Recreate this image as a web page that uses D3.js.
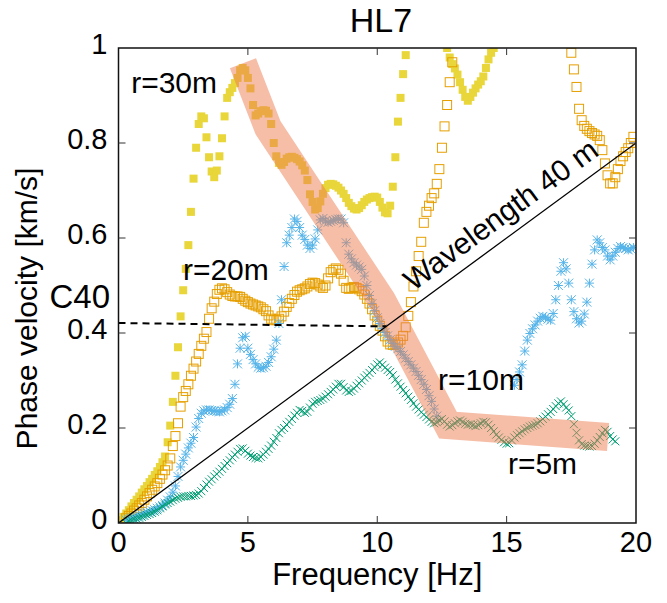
<!DOCTYPE html>
<html><head><meta charset="utf-8">
<script src="https://cdn.jsdelivr.net/npm/d3@7/dist/d3.min.js"></script>
<style>body{margin:0;background:#fff}text{font-family:"Liberation Sans",Arial,Helvetica,sans-serif;fill:#000}</style>
</head><body>
<svg id="chart" width="667" height="603"></svg>
<script>
// ---------- data ----------
const chartTitle = "HL7";
const xLabel = "Frequency [Hz]";
const yLabel = "Phase velocity [km/s]";
const xTicks = [0, 5, 10, 15, 20];
const xTickLabels = ["0", "5", "10", "15", "20"];
const yTicks = [0, 0.2, 0.4, 0.6, 0.8, 1];
const yTickLabels = ["0", "0.2", "0.4", "0.6", "0.8", "1"];
const freqStep = 0.1; // sampling step of the dispersion curves [Hz]

// r = 5 m (green x)
const r5Start = 0.3;
const r5Vel = [0.0,0.004,0.006,0.008,0.009,0.011,0.013,0.015,0.017,0.019,
0.021,0.024,0.027,0.031,0.035,0.039,0.042,0.045,0.048,0.051,
0.053,0.055,0.056,0.056,0.057,0.057,0.058,0.059,0.062,0.067,
0.074,0.081,0.087,0.092,0.098,0.103,0.108,0.114,0.12,0.126,
0.132,0.138,0.144,0.15,0.156,0.157,0.152,0.146,0.142,0.139,
0.137,0.136,0.139,0.144,0.15,0.156,0.163,0.171,0.179,0.189,
0.196,0.2,0.207,0.213,0.219,0.226,0.232,0.238,0.236,0.232,
0.234,0.243,0.251,0.255,0.257,0.259,0.262,0.266,0.271,0.276,
0.281,0.287,0.293,0.293,0.286,0.279,0.276,0.278,0.283,0.289,
0.294,0.3,0.306,0.311,0.316,0.322,0.328,0.334,0.338,0.333,
0.327,0.322,0.318,0.311,0.302,0.294,0.287,0.28,0.273,0.266,
0.259,0.252,0.245,0.239,0.233,0.228,0.223,0.218,0.213,0.21,
0.212,0.216,0.219,0.214,0.207,0.203,0.206,0.21,0.214,0.216,
0.213,0.209,0.207,0.208,0.206,0.204,0.206,0.21,0.213,0.212,
0.207,0.2,0.193,0.186,0.18,0.175,0.17,0.167,0.168,0.174,
0.18,0.185,0.189,0.193,0.197,0.2,0.203,0.205,0.207,0.21,
0.214,0.219,0.224,0.229,0.234,0.24,0.246,0.252,0.256,0.25,
0.243,0.237,0.225,0.208,0.19,0.174,0.166,0.163,0.162,0.161,
0.162,0.167,0.174,0.181,0.189,0.196,0.192,0.183,0.176,0.172];

// r = 10 m (blue asterisks), two branches
const r10aStart = 0.3;
const r10aVel = [0.006,0.008,0.01,0.012,0.013,0.015,0.017,0.02,0.022,0.024,
0.026,0.028,0.031,0.034,0.037,0.042,0.048,0.055,0.065,0.078,
0.098,0.118,0.132,0.145,0.158,0.168,0.18,0.202,0.22,0.231,
0.236,0.238,0.238,0.237,0.236,0.235,0.234,0.236,0.238,0.243,
0.25,0.262,0.292,0.335,0.368,0.39,0.393,0.368,0.355,0.344,
0.335,0.328,0.326,0.327,0.33,0.338,0.35,0.366,0.385,0.42,
0.47,0.54,0.59,0.606,0.622,0.64,0.635,0.622,0.606,0.597,
0.585,0.578,0.585,0.598,0.617,0.638,0.641,0.636,0.633,0.635,
0.637,0.639,0.64,0.64,0.632,0.59,0.566,0.556,0.548,0.543,
0.539,0.534,0.52,0.5,0.479,0.462,0.447,0.432,0.42,0.409,
0.401,0.394,0.386,0.378,0.372,0.367,0.361,0.354,0.347,0.34,
0.333,0.326,0.319,0.311,0.302,0.292,0.281,0.268,0.256,0.24,
0.225];
const r10bStart = 15.3;
const r10bVel = [0.29,0.302,0.318,0.333,0.362,0.385,0.399,0.409,0.417,0.425,
0.431,0.435,0.433,0.429,0.427,0.441,0.47,0.5,0.53,0.548,
0.535,0.505,0.47,0.445,0.43,0.421,0.425,0.44,0.465,0.505,
0.545,0.575,0.596,0.59,0.58,0.575,0.562,0.554,0.562,0.57,
0.578,0.582,0.58,0.578,0.575,0.577,0.58];

// r = 20 m (orange open squares), two branches
const r20aStart = 0.3;
const r20aVel = [0.01,0.015,0.02,0.026,0.031,0.037,0.042,0.049,0.056,0.063,
0.07,0.077,0.084,0.093,0.102,0.111,0.121,0.136,0.162,0.183,
0.21,0.245,0.265,0.278,0.292,0.31,0.325,0.34,0.356,0.373,
0.388,0.402,0.43,0.452,0.466,0.482,0.491,0.494,0.492,0.486,
0.481,0.478,0.477,0.477,0.476,0.472,0.468,0.465,0.462,0.46,
0.458,0.456,0.454,0.45,0.446,0.437,0.43,0.427,0.427,0.43,
0.435,0.445,0.455,0.463,0.472,0.48,0.487,0.49,0.492,0.494,
0.498,0.503,0.506,0.505,0.502,0.498,0.495,0.5,0.515,0.528,
0.533,0.536,0.533,0.525,0.51,0.495,0.493,0.495,0.497,0.495,
0.492,0.488,0.481,0.472,0.462,0.45,0.437,0.426,0.415,0.405,
0.393,0.382,0.376,0.375,0.376,0.38,0.386,0.394,0.412,0.436,
0.465,0.498,0.53,0.562,0.592,0.632,0.655,0.668,0.684,0.694,
0.714,0.745,0.79,0.835,0.88,0.928,0.97];
const r20bStart = 17.5;
const r20bVel = [0.99,0.955,0.918,0.872,0.848,0.836,0.83,0.825,0.821,0.818,
0.815,0.806,0.785,0.757,0.732,0.715,0.715,0.728,0.745,0.762,
0.772,0.781,0.789,0.8,0.813];

// r = 30 m (yellow filled squares), two branches
const r30aStart = 0.1;
const r30aVel = [0.006,0.013,0.02,0.027,0.035,0.042,0.049,0.056,0.064,0.071,
0.078,0.086,0.093,0.101,0.109,0.118,0.128,0.14,0.17,0.205,
0.255,0.31,0.37,0.435,0.49,0.535,0.585,0.655,0.725,0.79,
0.84,0.856,0.852,0.812,0.77,0.74,0.728,0.742,0.772,0.81,
0.856,0.895,0.907,0.916,0.926,0.937,0.953,0.958,0.953,0.937,
0.915,0.88,0.858,0.862,0.867,0.869,0.868,0.862,0.84,0.8,
0.772,0.758,0.754,0.76,0.767,0.77,0.771,0.769,0.766,0.761,
0.753,0.742,0.722,0.692,0.676,0.66,0.663,0.677,0.693,0.705,
0.712,0.714,0.713,0.71,0.706,0.7,0.693,0.684,0.674,0.667,
0.662,0.66,0.663,0.669,0.676,0.681,0.684,0.686,0.687,0.685,
0.676,0.664,0.654,0.652,0.668,0.708,0.77,0.845,0.895,0.945,0.985];
const r30bStart = 12.7;
const r30bVel = [1.0,0.98,0.966,0.957,0.944,0.928,0.912,0.897,0.889,0.897,
0.906,0.915,0.923,0.93,0.94,0.958,0.976,0.99,1.0];

// highlighted picked dispersion band (centerline)
const bandFreq = [4.81, 5.78, 10.18, 12.73, 18.92];
const bandVel  = [0.968, 0.832, 0.469, 0.206, 0.181];

// wavelength 40 m line and C40 reading
const wavelengthKm = 0.04;
const lineFreq = [0, 20];
const c40Freq = [0, 10.35];
const c40Vel = [0.421, 0.414];

// curve labels
const labelText = ["r=30m", "r=20m", "r=10m", "r=5m"];
const labelFreq = [0.49, 2.49, 12.35, 15.05];
const labelVel  = [0.906, 0.512, 0.28, 0.103];

// ---------- chart ----------
const W = 667, H = 603;
const margin = {left: 118.5, right: 31, top: 48, bottom: 80};
const svg = d3.select("#chart");
const x = d3.scaleLinear().domain([0, 20]).range([margin.left, W - margin.right]);
const y = d3.scaleLinear().domain([0, 1]).range([H - margin.bottom, margin.top]);

svg.append("defs").append("clipPath").attr("id", "plotclip")
  .append("rect").attr("x", x(0)).attr("y", y(1)).attr("width", x(20) - x(0)).attr("height", y(0) - y(1));

const plot = svg.append("g").attr("clip-path", "url(#plotclip)");

function series(start, vel) {
  return vel.map((v, i) => ({f: start + i * freqStep, v: v}));
}

// yellow r=30m filled squares
const yellow = "#e8d63a";
const ys = 8;
plot.append("g").selectAll("rect").data(series(r30aStart, r30aVel).concat(series(r30bStart, r30bVel)))
  .join("rect").attr("x", d => x(d.f) - ys/2).attr("y", d => y(d.v) - ys/2)
  .attr("width", ys).attr("height", ys).attr("fill", yellow);

// orange r=20m open squares
const orange = "#e69f00";
const os = 9;
plot.append("g").selectAll("rect").data(series(r20aStart, r20aVel).concat(series(r20bStart, r20bVel)))
  .join("rect").attr("x", d => x(d.f) - os/2).attr("y", d => y(d.v) - os/2)
  .attr("width", os).attr("height", os).attr("fill", "none").attr("stroke", orange).attr("stroke-width", 1);

// blue r=10m asterisks
const blue = "#56b4e9";
const bs = 4.5;
const starPath = `M${-bs},${-bs}L${bs},${bs}M${-bs},${bs}L${bs},${-bs}M${-bs},0L${bs},0M0,${-bs}L0,${bs}`;
plot.append("g").selectAll("path").data(series(r10aStart, r10aVel).concat(series(r10bStart, r10bVel)))
  .join("path").attr("transform", d => `translate(${x(d.f)},${y(d.v)})`)
  .attr("d", starPath).attr("fill", "none").attr("stroke", blue).attr("stroke-width", 1);

// green r=5m crosses
const green = "#009e73";
const gs = 4;
const crossPath = `M${-gs},${-gs}L${gs},${gs}M${-gs},${gs}L${gs},${-gs}`;
plot.append("g").selectAll("path").data(series(r5Start, r5Vel))
  .join("path").attr("transform", d => `translate(${x(d.f)},${y(d.v)})`)
  .attr("d", crossPath).attr("fill", "none").attr("stroke", green).attr("stroke-width", 1);

// highlight band
const bandLine = d3.line().x(d => x(d[0])).y(d => y(d[1]));
plot.append("path").attr("d", bandLine(bandFreq.map((f, i) => [f, bandVel[i]])))
  .attr("fill", "none").attr("stroke", "#ee7b50").attr("stroke-opacity", 0.5)
  .attr("stroke-width", 28).attr("stroke-linejoin", "miter").attr("stroke-linecap", "butt");

// wavelength line
plot.append("path").attr("d", bandLine(lineFreq.map(f => [f, f * wavelengthKm])))
  .attr("fill", "none").attr("stroke", "#000").attr("stroke-width", 1.3);

// C40 dashed
plot.append("path").attr("d", bandLine(c40Freq.map((f, i) => [f, c40Vel[i]])))
  .attr("fill", "none").attr("stroke", "#000").attr("stroke-width", 2).attr("stroke-dasharray", "7,5");

// frame
svg.append("rect").attr("x", x(0)).attr("y", y(1)).attr("width", x(20) - x(0)).attr("height", y(0) - y(1))
  .attr("fill", "none").attr("stroke", "#111").attr("stroke-width", 1.5);

// ticks (inward, all four sides)
const tl = 7;
const tg = svg.append("g").attr("stroke", "#333").attr("stroke-width", 1);
xTicks.slice(1, -1).forEach(t => {
  tg.append("line").attr("x1", x(t)).attr("x2", x(t)).attr("y1", y(0)).attr("y2", y(0) - tl);
  tg.append("line").attr("x1", x(t)).attr("x2", x(t)).attr("y1", y(1)).attr("y2", y(1) + tl);
});
yTicks.slice(1, -1).forEach(t => {
  tg.append("line").attr("x1", x(0)).attr("x2", x(0) + tl).attr("y1", y(t)).attr("y2", y(t));
  tg.append("line").attr("x1", x(20)).attr("x2", x(20) - tl).attr("y1", y(t)).attr("y2", y(t));
});

// tick labels
svg.append("g").selectAll("text").data(xTicks).join("text")
  .attr("x", d => x(d)).attr("y", y(0) + 29).attr("text-anchor", "middle")
  .attr("font-size", 29).text((d, i) => xTickLabels[i]);
svg.append("g").selectAll("text").data(yTicks).join("text")
  .attr("x", x(0) - 11).attr("y", d => y(d) + 6).attr("text-anchor", "end")
  .attr("font-size", 29).text((d, i) => yTickLabels[i]);

// axis titles
svg.append("text").attr("x", (x(0) + x(20)) / 2).attr("y", 585).attr("text-anchor", "middle")
  .attr("font-size", 31).text(xLabel);
svg.append("text").attr("transform", `translate(37,${(y(0) + y(1)) / 2 + 23}) rotate(-90)`)
  .attr("text-anchor", "middle").attr("font-size", 30).text(yLabel);

// title
svg.append("text").attr("x", 381).attr("y", 32).attr("text-anchor", "middle")
  .attr("font-size", 34).text(chartTitle);

// C40 label
svg.append("text").attr("x", 110).attr("y", 308).attr("text-anchor", "end")
  .attr("font-size", 33).text("C40");

// Wavelength label along the line
const ang = Math.atan2(y(0) - y(0.8), x(20) - x(0)) * 180 / Math.PI;
svg.append("text").attr("transform", `translate(${x(15)},${y(15 * wavelengthKm)}) rotate(${-ang})`)
  .attr("x", 9).attr("y", -12).attr("text-anchor", "middle").attr("font-size", 30)
  .text("Wavelength 40 m");

// curve labels
svg.append("g").selectAll("text").data(labelText).join("text")
  .attr("x", (d, i) => x(labelFreq[i])).attr("y", (d, i) => y(labelVel[i]))
  .attr("font-size", 30).text(d => d);
</script>
</body></html>
